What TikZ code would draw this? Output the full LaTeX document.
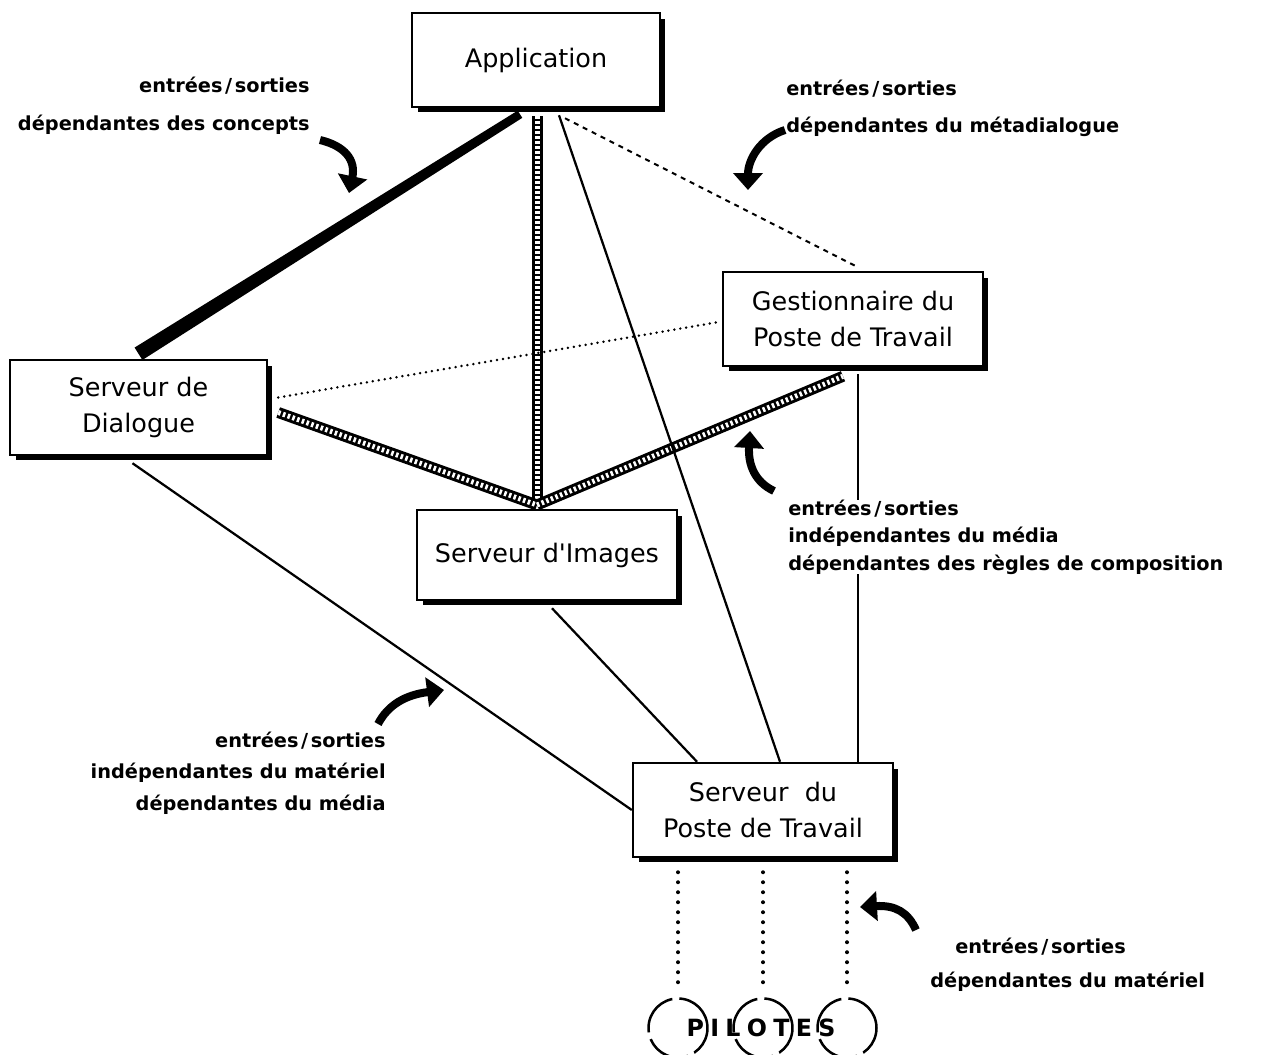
\documentclass[tikz,border=0pt]{standalone}
\usepackage{fontspec}
\setmainfont{DejaVu Sans}
\newfontfamily\boxfont{DejaVu Sans}
\usetikzlibrary{calc,shadows,arrows.meta}

\newcommand{\ES}{entrées\kern1.5pt/\kern1.5pt sorties}

\begin{document}
\begin{tikzpicture}[x=0.02cm,y=-0.02cm,
  box/.style={draw=black, line width=0.05cm, fill=white,
    minimum width=5.2cm, minimum height=1.88cm, inner sep=0pt, align=center,
    font=\boxfont\fontsize{14.5}{20.5}\selectfont,
    drop shadow={shadow xshift=0.11cm, shadow yshift=-0.11cm, fill=black, opacity=1}},
  lbl/.style={inner sep=0pt, fill=white},
  thin/.style={line width=0.045cm},
  chk/.style={line width=0.22cm, black,
    postaction={draw=white, line width=0.1cm, dash pattern=on 0.05cm off 0.05cm}},
  dashline/.style={line width=0.04cm, dash pattern=on 0.1cm off 0.1cm},
  dotline/.style={line width=0.055cm, line cap=round, dash pattern=on 0pt off 0.12cm},
  vdots/.style={line width=0.08cm, line cap=round, dash pattern=on 0pt off 0.2cm},
  pilot/.style={circle, draw, line width=0.05cm, minimum size=1.18cm, inner sep=0pt,
    dash pattern=on 0.9cm off 0.14cm},
  bigarrow/.style={line width=0.16cm, -{Triangle[length=0.34cm, width=0.58cm]}}
]
\useasboundingbox (0,0) rectangle (1265,1055);
\clip (0,0) rectangle (1265,1055);

\coordinate (hub) at (537,505);

% boxes
\node[box, minimum width=4.96cm] (app) at (536,60) {Application};
\node[box] (gest) at (853,319) {Gestionnaire du\\Poste de Travail};
\node[box, minimum width=5.14cm, minimum height=1.9cm] (dial) at (138.5,407.5) {Serveur de\\Dialogue};
\node[box, minimum height=1.8cm] (img) at (547,555) {Serveur d'Images};
\node[box] (spt) at (763,810) {Serveur\ \ du\\Poste de Travail};

% concepts: application -- dialogue, a wedge widening downwards
\coordinate (ct) at ($(app.south)+(-16,6)$);
\coordinate (cb) at ($(dial.north)+(0,-5)$);
\fill ($(ct)+(2.3,3.6)$) -- ($(ct)+(-2.3,-3.6)$)
  -- ($(cb)+(-3.9,-6.2)$) -- ($(cb)+(3.9,6.2)$) -- cycle;
% metadialogue: application -- gestionnaire
\draw[dashline] ($(app.south)+(29,10)$) -- ($(gest.north)+(4,-4)$);
% composition links meeting above the image server
\draw[chk] ($(app.south)+(1,8)$) -- (hub);
\draw[chk] ($(dial.east)+(10,5)$) -- (hub);
\draw[chk] (hub) -- ($(gest.south)+(-10,9)$);
% dialogue -- gestionnaire
\draw[dotline] ($(dial.east)+(10,-10)$) -- ($(gest.west)+(-3,3)$);
% media links to the workstation server
\draw[thin] ($(app.south)+(23,7)$) -- ($(spt.north)+(17,0)$);
\draw[thin] ($(gest.south)+(5,7)$) -- ($(spt.north)+(95,0)$);
\draw[thin] ($(img.south)+(5,7)$) -- ($(spt.north)+(-66,0)$);
\draw[thin] ($(dial.south)+(-6,7)$) -- (spt.west);

% drivers
\node[pilot] (p1) at (678,1028) {};
\node[pilot] (p2) at (763,1028) {};
\node[pilot] (p3) at (847,1028) {};
\node[font=\bfseries\fontsize{13.5}{13.5}\selectfont, inner sep=0pt] (pil) at (761,1028)
  {P\kern3.6pt I\kern3.6pt L\kern3.6pt O\kern3.6pt T\kern3.6pt E\kern3.6pt S};
\draw[vdots] ($(spt.south)+(-85,14)$) -- ($(p1.north)+(0,-8)$);
\draw[vdots] ($(spt.south)+(0,14)$) -- ($(p2.north)+(0,-8)$);
\draw[vdots] ($(spt.south)+(84,14)$) -- ($(p3.north)+(0,-8)$);

% labels
\node[lbl, align=right, anchor=east, font=\bfseries\fontsize{11}{21.6}\selectfont] (lconc) at (310,106)
  {\ES\\dépendantes des concepts};
\node[lbl, align=left, anchor=west, font=\bfseries\fontsize{11}{21.2}\selectfont] (lmeta) at (786,108)
  {\ES\\dépendantes du métadialogue};
\node[lbl, align=left, anchor=west, font=\bfseries\fontsize{11}{15.6}\selectfont] (lcomp) at (788,537)
  {\ES\\indépendantes du média\\dépendantes des règles de composition};
\node[lbl, align=right, anchor=east, font=\bfseries\fontsize{11}{17.9}\selectfont] (lmedia) at (386,773)
  {\ES\\indépendantes du matériel\\dépendantes du média};
\node[lbl, align=left, anchor=west, font=\bfseries\fontsize{11}{19.3}\selectfont] (lmat) at (930,965)
  {\hspace*{0.5cm}\ES\\dépendantes du matériel};

% curved pointers
\coordinate (a1) at (320,140);
\coordinate (a2) at (785,130);
\coordinate (a3) at (774,491);
\coordinate (a4) at (378,724);
\coordinate (a5) at (916,930);
\draw[bigarrow] (a1) .. controls (345,146) and (356,160) .. (349,193);
\draw[bigarrow] (a2) .. controls (760,138) and (748,160) .. (748,190);
\draw[bigarrow] (a3) .. controls (755,482) and (748,465) .. (750,431);
\draw[bigarrow] (a4) .. controls (388,705) and (405,695) .. (444,690);
\draw[bigarrow] (a5) .. controls (908,912) and (895,905) .. (860,907);
\end{tikzpicture}
\end{document}
